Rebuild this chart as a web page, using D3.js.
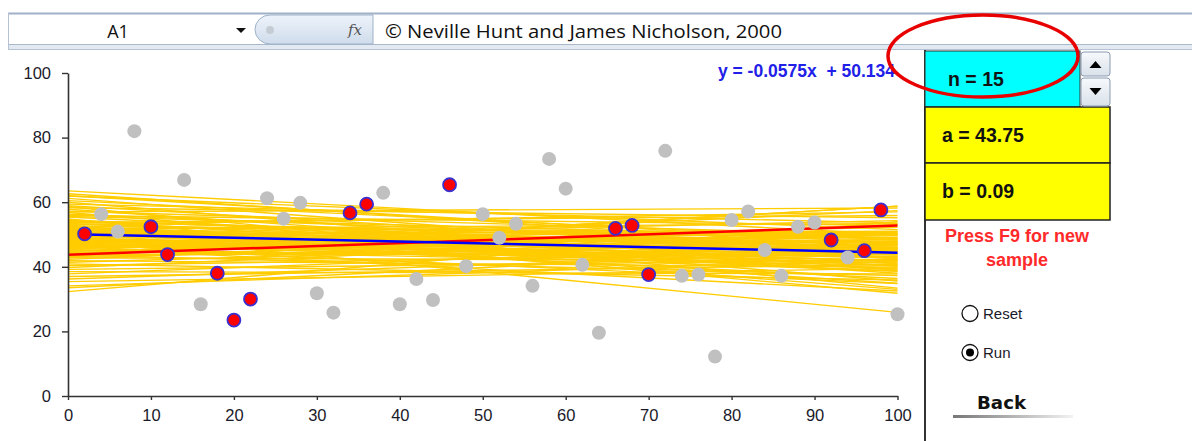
<!DOCTYPE html>
<html><head><meta charset="utf-8">
<script src="https://cdn.jsdelivr.net/npm/d3@7"></script>
<style>body{margin:0;background:#fff;overflow:hidden} svg{display:block}</style>
</head><body><svg id="c" width="1192" height="441"></svg>
<script>
// ---- data ----
const popX = [4,6,8,14,16,24,26,28,30,32,38,40,42,44,48,50,52,54,56,58,60,62,64,72,74,76,78,80,82,84,86,88,90,94,100];
const popY = [56.3,50.9,82.0,66.9,28.4,61.2,54.9,59.8,31.8,25.8,62.9,28.4,36.2,29.7,40.2,56.3,49.0,53.3,34.1,73.4,64.2,40.6,19.6,75.9,37.2,37.6,12.2,54.5,57.1,45.2,37.2,52.4,53.7,42.9,25.3];
const sampleX = [2,10,12,18,20,22,34,36,46,66,68,70,92,96,98];
const sampleY = [50.2,52.4,43.8,38.0,23.5,30.0,56.7,59.4,65.4,51.9,52.8,37.6,48.3,45.0,57.6];
// simulated sample fits: value at x=0 and x=100
const fitStart = [63.5,62.6,61.9,61.2,60.5,60.0,59.4,58.9,58.3,57.8,57.2,56.8,56.3,55.9,55.4,44.0,54.5,54.1,53.7,53.2,52.9,52.5,52.1,51.7,51.3,50.9,50.6,50.2,49.9,49.5,49.2,48.8,48.5,48.1,47.8,47.4,47.1,46.7,46.3,45.9,45.6,45.2,44.8,44.4,44.0,43.6,43.2,42.8,42.3,41.9,41.4,40.9,40.4,39.8,39.2,38.5,37.8,37.0,36.2,35.4,34.1,32.3,33.5,54.8,58.6,51.0,46.0,62.0,57.0,53.0,50.5,49.0,47.6,52.3,45.0,48.4,51.4,46.5,53.8,44.6,49.8,51.9,47.2,50.8,48.7,53.4,46.9,52.6,45.3,50.0,54.4,48.0,49.4,51.6,47.9,55.6,43.8,50.3,46.2,52.0];
const fitEnd   = [50.0,45.8,51.5,42.4,48.3,38.9,53.6,44.0,55.2,40.1,49.7,35.6,46.5,52.8,42.9,58.8,38.0,47.4,55.9,44.8,33.0,49.9,41.5,53.4,46.1,25.9,39.2,51.0,43.6,47.8,36.4,54.3,41.0,45.7,49.2,38.7,52.2,43.1,34.8,47.0,57.4,40.5,50.3,44.2,58.8,37.3,46.9,41.8,53.1,39.9,48.6,35.9,44.6,50.7,42.2,37.8,47.5,40.7,44.9,39.5,42.3,54.0,46.0,31.8,33.4,34.9,32.5,47.2,58.2,57.0,44.9,42.6,45.3,43.7,48.0,50.1,40.4,41.2,48.8,43.2,45.1,47.3,43.9,46.6,41.9,46.0,45.8,50.4,42.1,48.5,45.5,39.6,50.8,42.8,47.9,49.0,44.0,38.6,49.9,44.1];
const popFit = {a: 50.134, b: -0.0575};
const sampleFit = {a: 43.75, b: 0.09};
const yTicks = [0,20,40,60,80,100];
const xTicks = [0,10,20,30,40,50,60,70,80,90,100];
const equationLabel = "y = -0.0575x  + 50.134";
const panelLabels = ["n = 15", "a = 43.75", "b = 0.09"];
const formulaText = "\u00A9 Neville Hunt and James Nicholson, 2000";

// ---- drawing ----
const svg = d3.select("#c");
const defs = svg.append("defs");
const g1 = defs.append("linearGradient").attr("id","btn").attr("x1",0).attr("y1",0).attr("x2",0).attr("y2",1);
g1.append("stop").attr("offset","0%").attr("stop-color","#f7f9fc");
g1.append("stop").attr("offset","100%").attr("stop-color","#d9e1ea");
const g2 = defs.append("linearGradient").attr("id","oval").attr("x1",0).attr("y1",0).attr("x2",0).attr("y2",1);
g2.append("stop").attr("offset","0%").attr("stop-color","#eef3fa");
g2.append("stop").attr("offset","100%").attr("stop-color","#cfdcec");
const g3 = defs.append("linearGradient").attr("id","under").attr("x1",0).attr("y1",0).attr("x2",1).attr("y2",0);
g3.append("stop").attr("offset","0%").attr("stop-color","#777");
g3.append("stop").attr("offset","100%").attr("stop-color","#f2f2f2");

// formula bar
const fb = svg.append("g");
fb.append("rect").attr("x",8).attr("y",13).attr("width",1190).attr("height",32).attr("fill","#fff");
fb.append("line").attr("x1",8).attr("x2",1192).attr("y1",13.5).attr("y2",13.5).attr("stroke","#9fb1c7").attr("stroke-width",2);
fb.append("line").attr("x1",8).attr("x2",1192).attr("y1",44.5).attr("y2",44.5).attr("stroke","#a9b9cc").attr("stroke-width",1);
fb.append("rect").attr("x",8).attr("y",45).attr("width",1184).attr("height",4).attr("fill","#e3e9f0");
fb.append("line").attr("x1",8).attr("x2",1192).attr("y1",49.5).attr("y2",49.5).attr("stroke","#b4c2d3").attr("stroke-width",1);
fb.append("line").attr("x1",8.5).attr("x2",8.5).attr("y1",13).attr("y2",50).attr("stroke","#b4c2d3");
fb.append("text").attr("x",118).attr("y",38).attr("text-anchor","middle")
  .attr("font-family","Open Sans, sans-serif").attr("font-size",18).attr("fill","#111").text("A1");
fb.append("path").attr("d","M236,28 L246,28 L241,33 Z").attr("fill","#111");
fb.append("path").attr("d","M270,15 L373,15 L373,44 L270,44 A15,14.5 0 0 1 270,15 Z")
  .attr("fill","url(#oval)").attr("stroke","#9fb1c7");
fb.append("circle").attr("cx",270).attr("cy",30).attr("r",4).attr("fill","#c5ccd4");
fb.append("text").attr("x",348).attr("y",35).attr("font-family","DejaVu Serif, serif").attr("font-style","italic")
  .attr("font-size",15).attr("fill","#555").text("fx");
fb.append("text").attr("x",385).attr("y",38).attr("font-family","Open Sans, sans-serif").attr("font-size",18)
  .attr("fill","#111").attr("textLength",397).attr("lengthAdjust","spacingAndGlyphs").text(formulaText);

// chart
const x = d3.scaleLinear().domain([0,100]).range([68,897.5]);
const y = d3.scaleLinear().domain([0,100]).range([396,73]);

const fits = fitStart.map((s,i)=>({s, e: fitEnd[i]}));
svg.append("g").selectAll("line").data(fits).join("line")
  .attr("x1",x(0)).attr("x2",x(100)).attr("y1",d=>y(d.s)).attr("y2",d=>y(d.e))
  .attr("stroke","#ffcc00").attr("stroke-width",1.4);

const lineGen = d3.line().x(d=>x(d[0])).y(d=>y(d[1]));
svg.append("path").attr("d", lineGen([0,100].map(v=>[v, sampleFit.a + sampleFit.b*v])))
  .attr("stroke","#ff0000").attr("stroke-width",2.5).attr("fill","none");
svg.append("path").attr("d", lineGen([2,100].map(v=>[v, popFit.a + popFit.b*v])))
  .attr("stroke","#0000ff").attr("stroke-width",2.5).attr("fill","none");

svg.append("g").selectAll("circle").data(popX.map((v,i)=>[v,popY[i]])).join("circle")
  .attr("cx",d=>x(d[0])).attr("cy",d=>y(d[1])).attr("r",7).attr("fill","#c0c0c0");
svg.append("g").selectAll("circle").data(sampleX.map((v,i)=>[v,sampleY[i]])).join("circle")
  .attr("cx",d=>x(d[0])).attr("cy",d=>y(d[1])).attr("r",6.5).attr("fill","#ff0000")
  .attr("stroke","#3a2fd0").attr("stroke-width",1.8);

const yAxis = svg.append("g").attr("transform",`translate(${x(0)},0)`)
  .call(d3.axisLeft(y).tickValues(yTicks).tickSize(6).tickPadding(11).tickSizeOuter(0));
const xAxis = svg.append("g").attr("transform",`translate(0,${y(0)})`)
  .call(d3.axisBottom(x).tickValues(xTicks).tickSize(4).tickPadding(9).tickSizeOuter(0));
[yAxis, xAxis].forEach(a=>{
  a.select(".domain").attr("stroke","#333").attr("stroke-width",1.6);
  a.selectAll(".tick line").attr("stroke","#333").attr("stroke-width",1.4);
  a.selectAll("text").attr("font-family","Liberation Sans, Arial, sans-serif").attr("font-size",16.5).attr("fill","#1a1a2a");
});

svg.append("text").attr("x",895).attr("y",77).attr("text-anchor","end")
  .attr("font-family","Liberation Sans, Arial, sans-serif").attr("font-weight","bold").attr("font-size",17.5)
  .attr("fill","#2020e8").attr("xml:space","preserve").style("white-space","pre").text(equationLabel);

// right panel
const p = svg.append("g");
p.append("line").attr("x1",925).attr("x2",925).attr("y1",50).attr("y2",441).attr("stroke","#333").attr("stroke-width",2);
p.append("rect").attr("x",925).attr("y",51).attr("width",155).attr("height",56).attr("fill","#00ffff").attr("stroke","#333").attr("stroke-width",1);
p.append("rect").attr("x",925).attr("y",107).attr("width",185).attr("height",56).attr("fill","#ffff00").attr("stroke","#222").attr("stroke-width",1.5);
p.append("rect").attr("x",925).attr("y",163).attr("width",185).attr("height",57).attr("fill","#ffff00").attr("stroke","#222").attr("stroke-width",1.5);
p.append("rect").attr("x",1081).attr("y",52).attr("width",29).attr("height",24).attr("rx",3).attr("fill","url(#btn)").attr("stroke","#8a9bb1");
p.append("rect").attr("x",1081).attr("y",78).attr("width",29).attr("height",28).attr("rx",3).attr("fill","url(#btn)").attr("stroke","#8a9bb1");
p.append("path").attr("d","M1089.5,68 L1101.5,68 L1095.5,61 Z").attr("fill","#000");
p.append("path").attr("d","M1089.5,88 L1101.5,88 L1095.5,95 Z").attr("fill","#000");
const lx = [948, 942, 942], ly = [86, 142, 198];
panelLabels.forEach((t,i)=>p.append("text").attr("x",lx[i]).attr("y",ly[i])
  .attr("font-family","Liberation Sans, Arial, sans-serif").attr("font-weight","bold").attr("font-size",19.5)
  .attr("fill","#111").attr("xml:space","preserve").text(t));
["Press F9 for new","sample"].forEach((t,i)=>p.append("text").attr("x",1017).attr("y",242+i*23.5)
  .attr("text-anchor","middle").attr("font-family","Liberation Sans, Arial, sans-serif").attr("font-weight","bold")
  .attr("font-size",18).attr("fill","#ff2a2a").text(t));
p.append("circle").attr("cx",970).attr("cy",313.5).attr("r",8).attr("fill","#fff").attr("stroke","#111").attr("stroke-width",1.3);
p.append("circle").attr("cx",970).attr("cy",352.5).attr("r",8).attr("fill","#fff").attr("stroke","#111").attr("stroke-width",1.3);
p.append("circle").attr("cx",970).attr("cy",352.5).attr("r",4).attr("fill","#000");
p.append("text").attr("x",983).attr("y",319).attr("font-family","Liberation Sans, Arial, sans-serif").attr("font-size",15).attr("fill","#1a1a2a").text("Reset");
p.append("text").attr("x",983).attr("y",358).attr("font-family","Liberation Sans, Arial, sans-serif").attr("font-size",15).attr("fill","#1a1a2a").text("Run");
p.append("text").attr("x",977).attr("y",409).attr("font-family","DejaVu Sans, sans-serif").attr("font-weight","bold")
  .attr("font-size",17).attr("fill","#111").attr("textLength",49).attr("lengthAdjust","spacingAndGlyphs").text("Back");
p.append("rect").attr("x",953).attr("y",415).attr("width",120).attr("height",3).attr("fill","url(#under)");

// red highlight ellipse
svg.append("ellipse").attr("cx",983).attr("cy",56).attr("rx",95).attr("ry",41)
  .attr("fill","none").attr("stroke","#e80000").attr("stroke-width",3.5);
</script></body></html>
